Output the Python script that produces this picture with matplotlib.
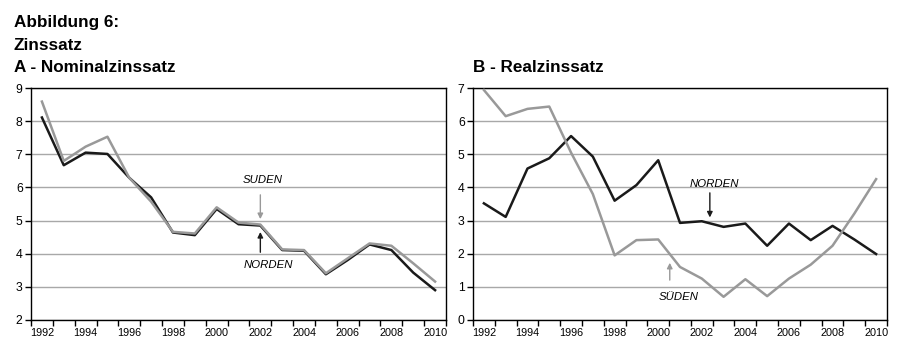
import matplotlib
matplotlib.use("Agg")
import matplotlib.pyplot as plt
import numpy as np

plt.rcParams['font.family'] = ['Liberation Sans', 'DejaVu Sans']

years = list(range(1992, 2011))
year_labels = [str(y) if y % 2 == 0 else "" for y in years]

nom_norden = [8.11, 6.67, 7.05, 7.01, 6.29, 5.70, 4.64, 4.56, 5.35, 4.89,
              4.85, 4.11, 4.09, 3.38, 3.81, 4.28, 4.11, 3.43, 2.90]
nom_sueden = [8.59, 6.80, 7.23, 7.53, 6.29, 5.57, 4.66, 4.61, 5.40, 4.94,
              4.88, 4.13, 4.11, 3.41, 3.86, 4.31, 4.24, 3.71, 3.16]

real_norden = [3.52, 3.11, 4.57, 4.88, 5.55, 4.93, 3.60, 4.07, 4.82, 2.93,
               2.98, 2.81, 2.91, 2.24, 2.91, 2.41, 2.84, 2.43, 1.99]
real_sueden = [6.94, 6.15, 6.37, 6.44, 5.05, 3.80, 1.95, 2.41, 2.43, 1.60,
               1.25, 0.70, 1.23, 0.72, 1.25, 1.67, 2.24, 3.21, 4.25]

BLACK = "#1a1a1a"
GRAY = "#999999"
GRID = "#a8a8a8"

fig = plt.figure(figsize=(9.10, 3.63), dpi=100)

tfs = 12.3
fig.text(14/910, 1 - 23/363, "Abbildung 6:", fontsize=tfs, fontweight="bold", va="center", ha="left")
fig.text(14/910, 1 - 45/363, "Zinssatz", fontsize=tfs, fontweight="bold", va="center", ha="left")
fig.text(14/910, 1 - 67/363, "A - Nominalzinssatz", fontsize=tfs, fontweight="bold", va="center", ha="left")
fig.text(473/910, 1 - 67/363, "B - Realzinssatz", fontsize=tfs, fontweight="bold", va="center", ha="left")

ax1 = fig.add_axes([31/910, 1 - 320/363, (446 - 31)/910, (320 - 88)/363])
ax2 = fig.add_axes([473/910, 1 - 320/363, (887 - 473)/910, (320 - 88)/363])

x = np.arange(len(years))


def style(ax, ymin, ymax):
    ax.set_xlim(-0.5, len(years) - 0.5)
    ax.set_ylim(ymin, ymax)
    ax.set_yticks(range(ymin, ymax + 1))
    ax.yaxis.grid(True, color=GRID, lw=1.0)
    ax.set_axisbelow(True)
    ax.set_xticks(x)
    ax.set_xticklabels(year_labels, fontsize=7.8)
    ax.tick_params(axis="x", which="major", length=0, pad=6)
    ax.set_xticks(np.arange(-0.5, len(years)), minor=True)
    ax.tick_params(axis="x", which="minor", length=4, width=1, direction="out")
    ax.tick_params(axis="y", length=4, width=1, direction="out", labelsize=8.8, pad=2)
    for s in ax.spines.values():
        s.set_color("black")
        s.set_linewidth(1.0)


style(ax1, 2, 9)
style(ax2, 0, 7)

ax1.plot(x, nom_norden, color=BLACK, lw=1.8, zorder=3)
ax1.plot(x, nom_sueden, color=GRAY, lw=1.8, zorder=4)

ax2.plot(x, real_norden, color=BLACK, lw=1.8, zorder=3)
ax2.plot(x, real_sueden, color=GRAY, lw=1.8, zorder=4)

afs = 8.2
ms = 8
# Panel A annotations
ax1.annotate("", xy=(10.0, 4.96), xytext=(10.0, 5.86),
             arrowprops=dict(arrowstyle="-|>", color=GRAY, lw=1, mutation_scale=ms))
ax1.text(10.1, 6.22, "SUDEN", fontsize=afs, style="italic", ha="center", va="center")
ax1.annotate("", xy=(10.0, 4.74), xytext=(10.0, 3.96),
             arrowprops=dict(arrowstyle="-|>", color=BLACK, lw=1, mutation_scale=ms))
ax1.text(10.35, 3.66, "NORDEN", fontsize=afs, style="italic", ha="center", va="center")

# Panel B annotations
ax2.annotate("", xy=(10.37, 3.01), xytext=(10.37, 3.92),
             arrowprops=dict(arrowstyle="-|>", color=BLACK, lw=1, mutation_scale=ms))
ax2.text(10.6, 4.10, "NORDEN", fontsize=afs, style="italic", ha="center", va="center")
ax2.annotate("", xy=(8.53, 1.81), xytext=(8.53, 1.12),
             arrowprops=dict(arrowstyle="-|>", color=GRAY, lw=1, mutation_scale=ms))
ax2.text(8.95, 0.69, "SÜDEN", fontsize=afs, style="italic", ha="center", va="center")

fig.savefig("out.png", dpi=100)
